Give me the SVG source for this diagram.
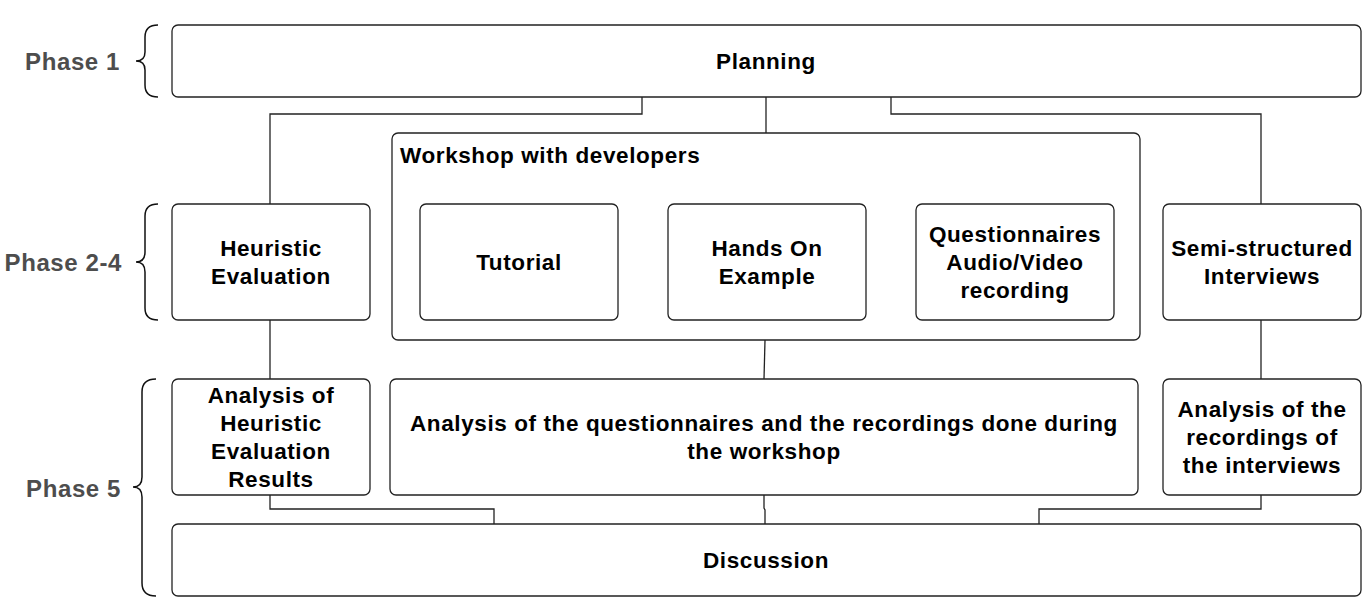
<svg xmlns="http://www.w3.org/2000/svg" width="1371" height="610" viewBox="0 0 1371 610">
<style>
.box{fill:#fff;stroke:#222;stroke-width:1.3}
.t{font-family:"Liberation Sans",Arial,sans-serif;font-weight:bold;font-size:22.5px;letter-spacing:0.6px;fill:#000;text-anchor:middle}
.ph{font-family:"Liberation Sans",Arial,sans-serif;font-weight:bold;font-size:24px;letter-spacing:0.6px;fill:#4d4d4d;text-anchor:end}
.c{fill:none;stroke:#222;stroke-width:1.3}
.br{fill:none;stroke:#111;stroke-width:1.5}
</style>
<rect width="1371" height="610" fill="#fff"/>
<g id="phases">
<text class="ph" x="120" y="70">Phase 1</text>
<path class="br" d="M158,25 Q145,25 145,37 L145,52 Q145,61 136,61 Q145,61 145,70 L145,85 Q145,97 158,97"/>
<text class="ph" x="122" y="271">Phase 2-4</text>
<path class="br" d="M158,204 Q145,204 145,216 L145,252 Q145,262 136,262 Q145,262 145,272 L145,308 Q145,320 158,320"/>
<text class="ph" x="121" y="497">Phase 5</text>
<path class="br" d="M156,379 Q142,379 142,392 L142,477 Q142,487 133,487 Q142,487 142,497 L142,583 Q142,596 156,596"/>
</g>
<g id="connectors">
<path class="c" d="M642,97 V114 H270 V204"/>
<path class="c" d="M766,97 V133"/>
<path class="c" d="M891,97 V114 H1261 V204"/>
<path class="c" d="M618,262 H668"/>
<path class="c" d="M866,262 H916"/>
<path class="c" d="M270,320 V379"/>
<path class="c" d="M765,340 L764,379"/>
<path class="c" d="M1261,320 V379"/>
<path class="c" d="M270,495 V509 H494 V524"/>
<path class="c" d="M764,495 V508 L765,510 V524"/>
<path class="c" d="M1261,495 V509 H1039 V524"/>
</g>
<g id="planning">
<rect class="box" x="172" y="25" width="1189" height="72" rx="6"/>
<text class="t" x="766" y="69">Planning</text>
</g>
<g id="workshop">
<rect class="box" x="392" y="133" width="748" height="207" rx="6"/>
<text class="t" x="400" y="163" style="text-anchor:start">Workshop with developers</text>
</g>
<g id="heuristic">
<rect class="box" x="172" y="204" width="198" height="116" rx="6"/>
<text class="t" x="271" y="256">Heuristic</text>
<text class="t" x="271" y="284">Evaluation</text>
</g>
<g id="tutorial">
<rect class="box" x="420" y="204" width="198" height="116" rx="6"/>
<text class="t" x="519" y="270">Tutorial</text>
</g>
<g id="handson">
<rect class="box" x="668" y="204" width="198" height="116" rx="6"/>
<text class="t" x="767" y="256">Hands On</text>
<text class="t" x="767" y="284">Example</text>
</g>
<g id="questionnaires">
<rect class="box" x="916" y="204" width="198" height="116" rx="6"/>
<text class="t" x="1015" y="242">Questionnaires</text>
<text class="t" x="1015" y="270">Audio/Video</text>
<text class="t" x="1015" y="298">recording</text>
</g>
<g id="interviews">
<rect class="box" x="1163" y="204" width="198" height="116" rx="6"/>
<text class="t" x="1262" y="256">Semi-structured</text>
<text class="t" x="1262" y="284">Interviews</text>
</g>
<g id="analysis-heuristic">
<rect class="box" x="172" y="379" width="198" height="116" rx="6"/>
<text class="t" x="271" y="403">Analysis of</text>
<text class="t" x="271" y="431">Heuristic</text>
<text class="t" x="271" y="459">Evaluation</text>
<text class="t" x="271" y="487">Results</text>
</g>
<g id="analysis-workshop">
<rect class="box" x="390" y="379" width="748" height="116" rx="6"/>
<text class="t" x="764" y="431">Analysis of the questionnaires and the recordings done during</text>
<text class="t" x="764" y="459">the workshop</text>
</g>
<g id="analysis-interviews">
<rect class="box" x="1163" y="379" width="198" height="116" rx="6"/>
<text class="t" x="1262" y="417">Analysis of the</text>
<text class="t" x="1262" y="445">recordings of</text>
<text class="t" x="1262" y="473">the interviews</text>
</g>
<g id="discussion">
<rect class="box" x="172" y="524" width="1189" height="72" rx="6"/>
<text class="t" x="766" y="568">Discussion</text>
</g>
</svg>
